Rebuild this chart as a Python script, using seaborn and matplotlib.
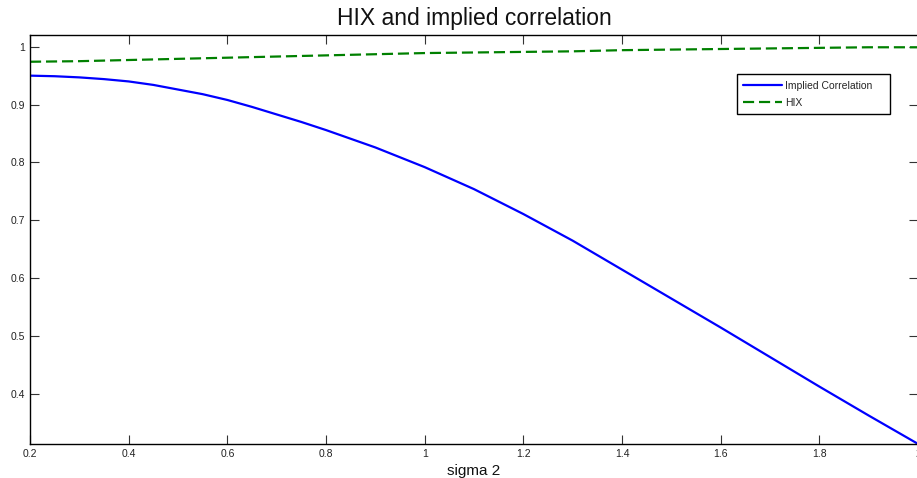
import numpy as np
import pandas as pd
import matplotlib
matplotlib.use("Agg")
import matplotlib.pyplot as plt
import seaborn as sns

# ---- data ----
sigma2 = [0.2, 0.25, 0.3, 0.35, 0.4, 0.45, 0.5, 0.55, 0.6, 0.65, 0.7, 0.75, 0.8,
          0.9, 1.0, 1.1, 1.2, 1.3, 1.4, 1.5, 1.6, 1.7, 1.8, 1.9, 2.0]
implied_corr = [0.950, 0.949, 0.947, 0.944, 0.940, 0.934, 0.926, 0.918, 0.908, 0.896,
                0.883, 0.870, 0.856, 0.826, 0.792, 0.754, 0.711, 0.665, 0.615, 0.565,
                0.515, 0.464, 0.413, 0.363, 0.314]
hix = [0.974, 0.9745, 0.975, 0.976, 0.977, 0.978, 0.979, 0.980, 0.981, 0.982, 0.983,
       0.984, 0.985, 0.987, 0.989, 0.990, 0.991, 0.992, 0.994, 0.995, 0.996, 0.997,
       0.998, 0.999, 0.999]
xticks = [0.2, 0.4, 0.6, 0.8, 1.0, 1.2, 1.4, 1.6, 1.8, 2.0]
xticklabels = ["0.2", "0.4", "0.6", "0.8", "1", "1.2", "1.4", "1.6", "1.8", "2"]
yticks = [0.4, 0.5, 0.6, 0.7, 0.8, 0.9, 1.0]
yticklabels = ["0.4", "0.5", "0.6", "0.7", "0.8", "0.9", "1"]

sns.set_theme(style="white")
plt.rcParams['font.family'] = ['Liberation Sans', 'DejaVu Sans']

df = pd.DataFrame({"sigma2": sigma2, "corr": implied_corr, "hix": hix})

fig = plt.figure(figsize=(9.17, 4.78), dpi=100)
ax = fig.add_axes([30 / 917, 34 / 478, 888 / 917, 409 / 478])

sns.lineplot(data=df, x="sigma2", y="corr", ax=ax, color="#0000FF", linewidth=1.6,
             label="Implied Correlation    ")
sns.lineplot(data=df, x="sigma2", y="hix", ax=ax, color="#008000", linewidth=1.6,
             dashes=False, label="HIX")
ax.lines[1].set_dashes((5, 2.2))

ax.set_xlim(0.2, 2.0)
ax.set_ylim(0.3138, 1.0202)
ax.set_xticks(xticks)
ax.set_xticklabels(xticklabels)
ax.set_yticks(yticks)
ax.set_yticklabels(yticklabels)

for s in ax.spines.values():
    s.set_color("black")
    s.set_linewidth(1.0)
    s.set_visible(True)

ax.tick_params(axis="both", which="both", direction="in", length=6.5, width=0.8,
               color="#333333", labelsize=7.5, labelcolor="#222222",
               top=True, right=True, bottom=True, left=True, pad=3.5)

ax.set_xlabel("sigma 2", fontsize=11, labelpad=4, color="#111111")
ax.set_ylabel("")
ax.set_title("HIX and implied correlation", fontsize=16.5, pad=7, color="#111111")

leg = ax.legend(loc="upper right", bbox_to_anchor=(0.9686, 0.904), borderaxespad=0,
                fontsize=7.5, frameon=True, fancybox=False, shadow=False,
                handlelength=3.7, handletextpad=0.3, labelspacing=0.7,
                borderpad=0.6)
leg.get_frame().set_edgecolor("black")
leg.get_frame().set_linewidth(1.0)
leg.get_frame().set_alpha(1)

fig.savefig("out.png", dpi=100)
